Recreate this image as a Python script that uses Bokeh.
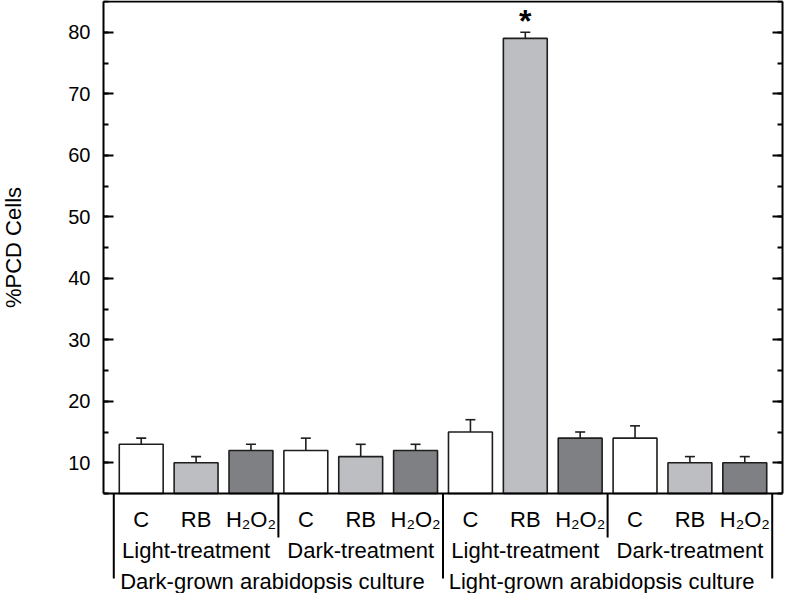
from bokeh.plotting import figure
from bokeh.models import (ColumnDataSource, Range1d, LinearAxis, SingleIntervalTicker,
                          Whisker, TeeHead)
from bokeh.core.properties import value
from bokeh.embed import file_html
from bokeh.resources import INLINE

# ---------------- data ----------------
cultures = ["Dark-grown arabidopsis culture", "Light-grown arabidopsis culture"]
treatments = ["Light-treatment", "Dark-treatment"]
compounds = ["C", "RB", "H\u2082O\u2082"]
pcd_mean = [13, 10, 12, 12, 11, 12, 15, 79, 14, 14, 10, 10]
pcd_err = [1, 1, 1, 2, 2, 1, 2, 1, 1, 2, 1, 1]
significant = [False, False, False, False, False, False, False, True, False, False, False, False]
y_ticks_interval = 10

# ---------------- layout / style ----------------
FONT = "Liberation Sans"
W, H = 784, 593
X_LO, X_HI = 0.3125, 12.6875
Y_LO, Y_HI = 5, 85
FRAME_L, FRAME_R = 103, 782      # px of plot-box left/right
PY = 6.15                        # px per y-unit
TOP_PX = 1
SX = (FRAME_R - FRAME_L) / (X_HI - X_LO)
BOX_BOTTOM_PX = TOP_PX + (Y_HI - Y_LO) * PY
STAR_GAP = 1.9                   # y-units between error-bar top and star centre
colors = ["#ffffff", "#bdbec2", "#7f8083"]

n_c = len(compounds)
n_t = len(treatments)
xs = list(range(1, len(pcd_mean) + 1))
bar_cols = [colors[i % n_c] for i in range(len(pcd_mean))]

p = figure(width=W, height=H, output_backend="svg", toolbar_location=None,
           x_axis_location=None, y_axis_location=None,
           x_range=Range1d(X_LO - FRAME_L / SX, X_HI + (W - FRAME_R) / SX),
           y_range=Range1d(Y_LO - (H - BOX_BOTTOM_PX) / PY, Y_HI + TOP_PX / PY),
           min_border=0, outline_line_color=None)
p.xgrid.visible = False
p.ygrid.visible = False
p.background_fill_color = "white"
p.border_fill_color = "white"

# bars
src = ColumnDataSource(dict(x=xs, top=pcd_mean, err_top=[m + e for m, e in zip(pcd_mean, pcd_err)],
                            color=bar_cols))
p.vbar(x="x", top="top", bottom=Y_LO, width=0.8, source=src, fill_color="color",
       line_color="#1e1e1e", line_width=1.6)
p.add_layout(Whisker(base="x", lower="top", upper="err_top", source=src, dimension="height",
                     lower_head=None,
                     upper_head=TeeHead(size=10, line_width=1.6, line_color="#1e1e1e"),
                     line_width=1.6, line_color="#1e1e1e"))

# significance star
sig_x = [x for x, s in zip(xs, significant) if s]
sig_y = [m + e + STAR_GAP for m, e, s in zip(pcd_mean, pcd_err, significant) if s]
p.text(x=sig_x, y=sig_y, text=["*"] * len(sig_x), text_align="center", text_baseline="middle",
       text_font=value(FONT), text_font_size="32px", text_font_style="bold", text_color="black")

# frame lines (bottom axis line and top border)
p.segment(x0=[X_LO, X_LO], y0=[Y_LO, Y_HI], x1=[X_HI, X_HI], y1=[Y_LO, Y_HI],
          line_color="black", line_width=2)

# y axes
def make_axis(loc, labels):
    ax = LinearAxis(fixed_location=loc, bounds=(Y_LO, Y_HI),
                    ticker=SingleIntervalTicker(interval=y_ticks_interval, num_minor_ticks=2))
    ax.axis_line_width = 2
    ax.axis_line_color = "black"
    ax.major_tick_in = 10
    ax.major_tick_out = 0
    ax.minor_tick_in = 5
    ax.minor_tick_out = 0
    ax.major_tick_line_width = 2
    ax.minor_tick_line_width = 2
    ax.major_label_text_font = FONT
    ax.major_label_text_font_size = "20px"
    ax.major_label_text_color = "black"
    ax.major_label_standoff = 13
    if not labels:
        ax.major_label_text_alpha = 0
    return ax

yl = make_axis(X_LO, True)
yl.axis_label = "%PCD Cells"
yl.axis_label_text_font = FONT
yl.axis_label_text_font_size = "22px"
yl.axis_label_text_font_style = "normal"
yl.axis_label_text_color = "black"
yl.axis_label_standoff = 39
p.add_layout(yl, "left")
p.add_layout(make_axis(X_HI, False), "right")

# category labels below the box
ROW1, ROW2, ROW3 = 26, 57, 88
lab1 = ColumnDataSource(dict(x=xs, y=[Y_LO - ROW1 / PY] * len(xs),
                             t=[compounds[i % n_c] for i in range(len(xs))]))
p.text(x="x", y="y", text="t", source=lab1, text_align="center", text_baseline="middle",
       text_font=value(FONT), text_font_size="22px", text_color="black")

t_x = [1 + n_c * k + (n_c - 1) / 2 for k in range(len(cultures) * n_t)]
lab2 = ColumnDataSource(dict(x=t_x, y=[Y_LO - ROW2 / PY] * len(t_x),
                             t=[treatments[k % n_t] for k in range(len(t_x))]))
p.text(x="x", y="y", text="t", source=lab2, text_align="center", text_baseline="middle",
       text_font=value(FONT), text_font_size="22px", text_color="black")

c_x = [1 + n_c * n_t * k + (n_c * n_t - 1) / 2 for k in range(len(cultures))]
lab3 = ColumnDataSource(dict(x=c_x, y=[Y_LO - ROW3 / PY] * len(c_x), t=cultures))
p.text(x="x", y="y", text="t", source=lab3, text_align="center", text_baseline="middle",
       x_offset=-6, text_font=value(FONT), text_font_size="22px", text_color="black")

# separators
short_x = [0.5 + n_c * k for k in range(1, len(cultures) * n_t) if k % n_t != 0]
long_x = [0.5 + n_c * n_t * k for k in range(len(cultures) + 1)]
sep_x = short_x + long_x
sep_y1 = [Y_LO - 44 / PY] * len(short_x) + [Y_LO - 85 / PY] * len(long_x)
p.segment(x0=sep_x, y0=[Y_LO] * len(sep_x), x1=sep_x, y1=sep_y1,
          line_color="black", line_width=2)

open("out.html", "w").write(file_html(p, INLINE))
